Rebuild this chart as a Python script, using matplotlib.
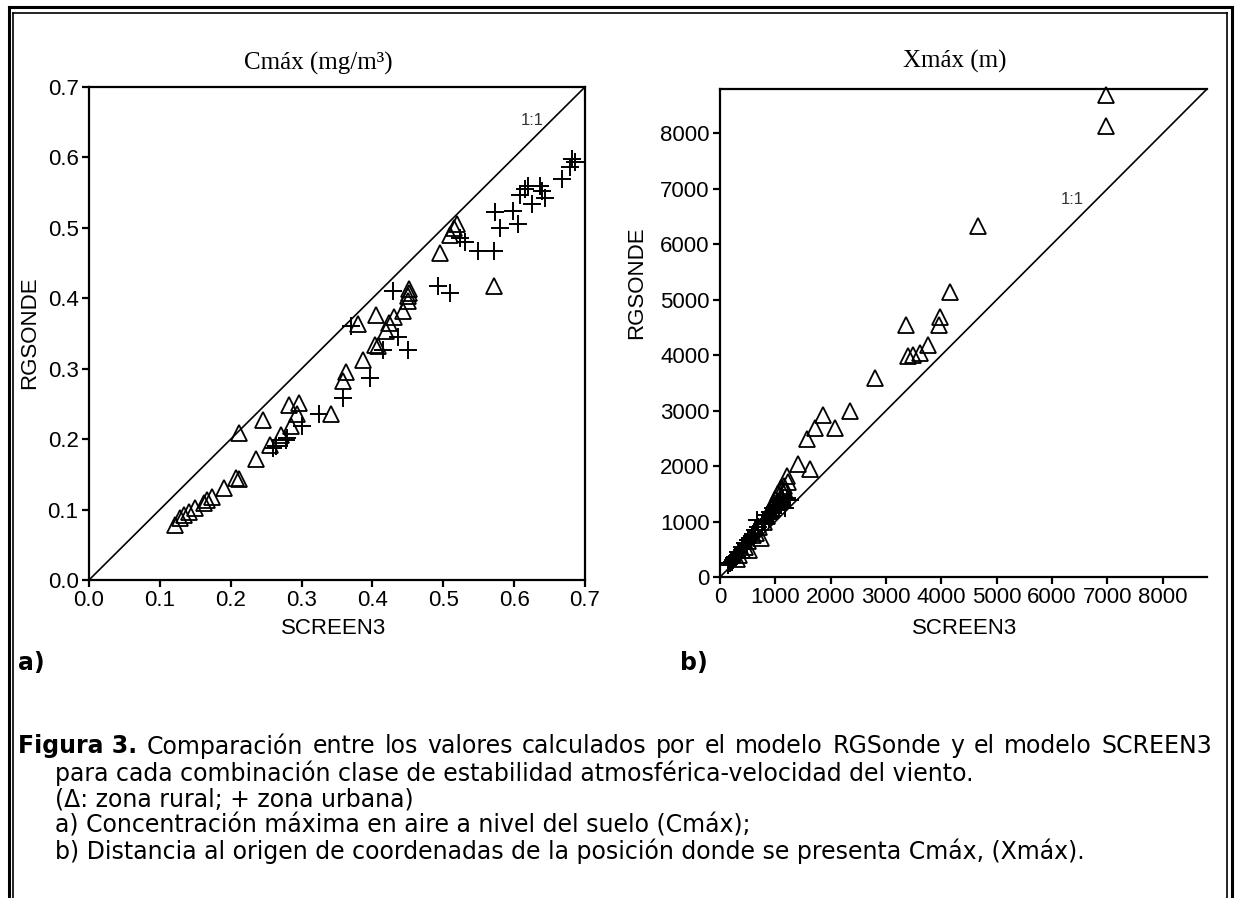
import numpy as np
import matplotlib.pyplot as plt
from matplotlib.lines import Line2D

# ---------------------------------------------
# data
# ---------------------------------------------
# a) Cmax (mg/m3): rural (triangles)
cmax_rural_screen = [0.122, 0.129, 0.134, 0.141, 0.150, 0.162, 0.167, 0.174, 0.190, 0.207,
                     0.212, 0.212, 0.235, 0.245, 0.256, 0.271, 0.282, 0.285, 0.294, 0.297,
                     0.341, 0.358, 0.363, 0.386, 0.403, 0.408, 0.379, 0.405, 0.419, 0.424,
                     0.431, 0.443, 0.450, 0.452, 0.452, 0.450, 0.495, 0.510, 0.515, 0.520,
                     0.572]
cmax_rural_rgsonde = [0.078, 0.088, 0.092, 0.097, 0.102, 0.109, 0.114, 0.118, 0.130, 0.145,
                      0.143, 0.209, 0.172, 0.227, 0.192, 0.206, 0.248, 0.218, 0.235, 0.251,
                      0.236, 0.282, 0.295, 0.313, 0.334, 0.332, 0.363, 0.376, 0.353, 0.365,
                      0.374, 0.382, 0.396, 0.408, 0.413, 0.403, 0.465, 0.490, 0.500, 0.505,
                      0.417]
# a) Cmax: urban (crosses)
cmax_urban_screen = [0.259, 0.264, 0.278, 0.280, 0.300, 0.325, 0.358, 0.370, 0.396, 0.415,
                     0.429, 0.436, 0.450, 0.493, 0.509, 0.524, 0.530, 0.549, 0.571, 0.573,
                     0.580, 0.599, 0.606, 0.608, 0.616, 0.620, 0.625, 0.637, 0.639, 0.644,
                     0.667, 0.679, 0.681, 0.686]
cmax_urban_rgsonde = [0.187, 0.190, 0.199, 0.202, 0.218, 0.235, 0.258, 0.360, 0.287, 0.326,
                      0.410, 0.345, 0.326, 0.417, 0.408, 0.486, 0.480, 0.467, 0.467, 0.522,
                      0.500, 0.524, 0.505, 0.546, 0.555, 0.560, 0.534, 0.560, 0.553, 0.543,
                      0.569, 0.586, 0.598, 0.593]

# b) Xmax (m): rural (triangles)
xmax_rural_screen = [6980, 6980, 4663, 4164, 3971, 3958, 3370, 3760, 3610, 3490, 3400,
                     2798, 2347, 1865, 1715, 2076, 1565, 1414, 1625, 1209, 1233, 1101,
                     1042, 740, 529, 1000, 950, 900, 850, 800, 700, 650, 600, 500, 450,
                     400, 350, 300, 1150, 1100, 1180, 1050]
xmax_rural_rgsonde = [8700, 8128, 6323, 5139, 4688, 4549, 4549, 4188, 4038, 4007, 3977,
                      3587, 2996, 2924, 2684, 2684, 2485, 2034, 1944, 1829, 1721, 1601,
                      1511, 698, 487, 1400, 1300, 1200, 1100, 1000, 900, 800, 750, 650, 550,
                      480, 400, 330, 1650, 1450, 1550, 1350]
# b) Xmax: urban (crosses)
xmax_urban_screen = [150, 211, 271, 331, 391, 451, 511, 572, 632, 692, 782, 843, 903, 963,
                     1023, 1083, 1143, 1204, 1264, 1233, 1101, 665, 230, 300, 420, 550,
                     760, 880, 1000, 1180, 180, 260, 350, 480, 600, 820, 940, 1060]
xmax_urban_rgsonde = [217, 277, 367, 457, 547, 608, 668, 740, 848, 908, 1029, 1119, 1179,
                      1240, 1300, 1359, 1421, 1421, 1390, 1390, 1300, 1029, 300, 380, 520,
                      700, 950, 1050, 1200, 1250, 250, 340, 430, 620, 780, 1000, 1100, 1230]

cmax_ticks = [0.0, 0.1, 0.2, 0.3, 0.4, 0.5, 0.6, 0.7]
xmax_ticks = [0, 1000, 2000, 3000, 4000, 5000, 6000, 7000, 8000]

caption_first = ['Comparación', 'entre', 'los', 'valores', 'calculados', 'por', 'el',
                 'modelo', 'RGSonde', 'y', 'el', 'modelo', 'SCREEN3']
caption_lines = ['para cada combinación clase de estabilidad atmosférica-velocidad del viento.',
                 '(Δ: zona rural; + zona urbana)',
                 'a) Concentración máxima en aire a nivel del suelo (Cmáx);',
                 'b) Distancia al origen de coordenadas de la posición donde se presenta Cmáx, (Xmáx).']

W, H = 1235, 898
fig = plt.figure(figsize=(W / 100, H / 100), dpi=100)
plt.rcParams['font.family'] = ['Liberation Sans', 'DejaVu Sans']

def fx(px):
    return px / W

def fy(py):
    return 1 - py / H

# ---------------------------------------------
# axes
# ---------------------------------------------
ax1 = fig.add_axes([fx(89), fy(580), fx(585) - fx(89), fy(87) - fy(580)])
ax2 = fig.add_axes([fx(720), fy(577), fx(1207) - fx(720), fy(89) - fy(577)])

tri = dict(marker='^', linestyle='none', markersize=11, markerfacecolor='none',
           markeredgecolor='black', markeredgewidth=1.3)
crs = dict(marker='+', linestyle='none', markersize=12.5, color='black', markeredgewidth=1.4)

ax1.plot([0, 0.7], [0, 0.7], color='black', lw=1.2)
ax1.plot(cmax_rural_screen, cmax_rural_rgsonde, **tri)
ax1.plot(cmax_urban_screen, cmax_urban_rgsonde, **crs)
ax1.set_xlim(0, 0.7)
ax1.set_ylim(0, 0.7)
ax1.set_xticks(cmax_ticks)
ax1.set_yticks(cmax_ticks)
ax1.set_xticklabels(['%.1f' % t for t in cmax_ticks])
ax1.set_yticklabels(['%.1f' % t for t in cmax_ticks])
ax1.text(0.626, 0.653, '1:1', fontsize=12, color='#333333', ha='center', va='center')

ax2.plot([0, 8800], [0, 8800], color='black', lw=1.2)
ax2.plot(xmax_rural_screen, xmax_rural_rgsonde, **tri, clip_on=False)
ax2.plot(xmax_urban_screen, xmax_urban_rgsonde, **crs)
ax2.set_xlim(0, 8800)
ax2.set_ylim(0, 8800)
ax2.set_xticks(xmax_ticks)
ax2.set_yticks(xmax_ticks)
ax2.spines['right'].set_visible(False)
ax2.text(6372, 6805, '1:1', fontsize=12, color='#333333', ha='center', va='center')

for ax in (ax1, ax2):
    for s in ax.spines.values():
        s.set_linewidth(1.6)
    ax.tick_params(direction='out', length=5, width=1.6, labelsize=16, pad=2.5)

# ---------------------------------------------
# labels
# ---------------------------------------------
fig.text(fx(318), fy(63), 'Cmáx (mg/m³)', family='Liberation Serif', fontsize=18,
         ha='center', va='center')
fig.text(fx(955), fy(61), 'Xmáx (m)', family='Liberation Serif', fontsize=18,
         ha='center', va='center')
fig.text(fx(334), fy(629), 'SCREEN3', fontsize=16, ha='center', va='center')
fig.text(fx(965), fy(629), 'SCREEN3', fontsize=16, ha='center', va='center')
fig.text(fx(30), fy(333), 'RGSONDE', fontsize=16, ha='center', va='center', rotation=90)
fig.text(fx(637), fy(283), 'RGSONDE', fontsize=16, ha='center', va='center', rotation=90)
fig.text(fx(18), fy(663), 'a)', family='DejaVu Sans', fontsize=17, fontweight='bold',
         ha='left', va='center')
fig.text(fx(680), fy(663), 'b)', family='DejaVu Sans', fontsize=17, fontweight='bold',
         ha='left', va='center')

# caption, first line justified to the frame
cap = dict(family='DejaVu Sans', fontsize=17, va='center', ha='left')
y1 = fy(746)
renderer = fig.canvas.get_renderer()
words = [fig.text(0, y1, 'Figura 3.', fontweight='bold', **cap)]
words += [fig.text(0, y1, w, **cap) for w in caption_first]
widths = [t.get_window_extent(renderer).width for t in words]
x0, x1 = 18, 1212
gap = (x1 - x0 - sum(widths)) / (len(words) - 1)
x = x0
for t, w in zip(words, widths):
    t.set_x(fx(x))
    x += w + gap

for i, t in enumerate(caption_lines):
    fig.text(fx(55), fy(773 + 26 * i), t, **cap)

# double frame
fig.add_artist(Line2D([fx(9), fx(9)], [fy(7), 0], color='black', lw=2.2))
fig.add_artist(Line2D([fx(13), fx(13)], [fy(13), 0], color='black', lw=1.2))
fig.add_artist(Line2D([fx(9), fx(1232)], [fy(7), fy(7)], color='black', lw=2.2))
fig.add_artist(Line2D([fx(13), fx(1227)], [fy(13), fy(13)], color='black', lw=1.2))
fig.add_artist(Line2D([fx(1232), fx(1232)], [fy(7), 0], color='black', lw=2.2))
fig.add_artist(Line2D([fx(1227), fx(1227)], [fy(13), 0], color='black', lw=1.2))

fig.savefig('out.png', dpi=100)
